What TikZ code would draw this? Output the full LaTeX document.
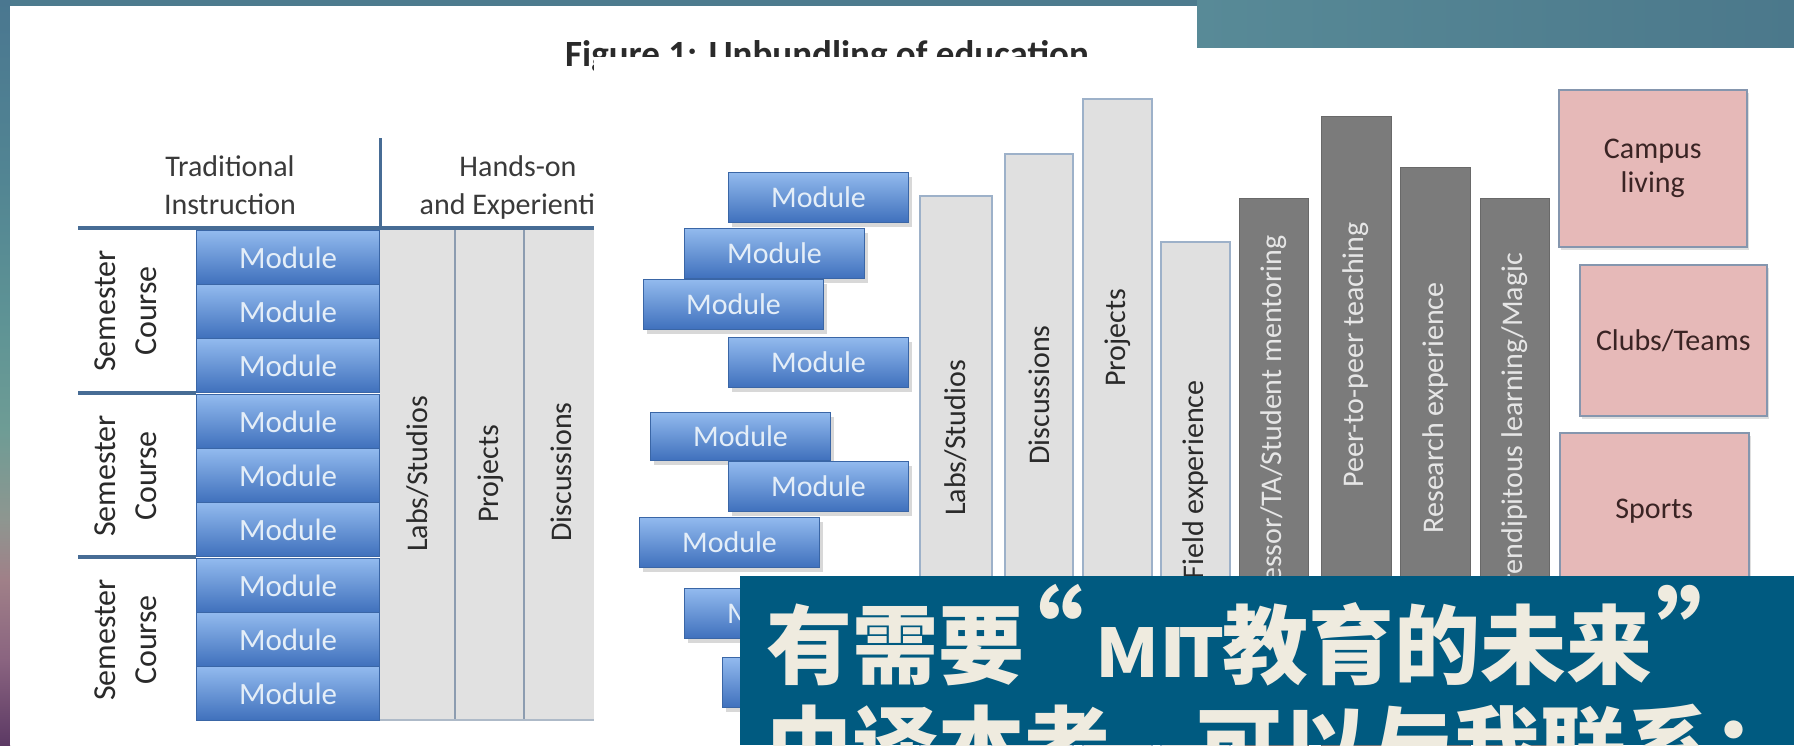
\documentclass[tikz,border=0pt]{standalone}
\usepackage{fontspec}
\setmainfont{Carlito}
\newfontfamily\cjk{Noto Sans CJK SC}
\usetikzlibrary{shadows}
\definecolor{bgteal}{HTML}{4D7B8E}
\definecolor{modtop}{HTML}{92BAEE}
\definecolor{modbot}{HTML}{3F70BC}
\definecolor{modline}{HTML}{3A66A6}
\definecolor{modtext}{HTML}{E4EEF8}
\definecolor{hdrline}{HTML}{476C95}
\definecolor{colgray}{HTML}{E1E1E1}
\definecolor{colline}{HTML}{8C9CB0}
\definecolor{lbar}{HTML}{E0E0E0}
\definecolor{lbarline}{HTML}{9DB1C9}
\definecolor{dbar}{HTML}{7B7B7B}
\definecolor{dbartext}{HTML}{E6E6E6}
\definecolor{pinkfill}{HTML}{E6B9B8}
\definecolor{pinkline}{HTML}{8596AE}
\definecolor{pinktext}{HTML}{3A2424}
\definecolor{banner}{HTML}{005A80}
\definecolor{bantext}{HTML}{EFEBDF}
\definecolor{inktext}{HTML}{2A2A2A}
\definecolor{hdrtext}{HTML}{3A3A3A}
\definecolor{sA}{HTML}{4A7790}
\definecolor{sB}{HTML}{528593}
\definecolor{sC}{HTML}{5F9495}
\definecolor{sD}{HTML}{6E9C95}
\definecolor{sE}{HTML}{8E9690}
\definecolor{sF}{HTML}{A08088}
\definecolor{sG}{HTML}{8A6480}
\definecolor{sH}{HTML}{5C3964}
\definecolor{bandL}{HTML}{588A97}
\definecolor{bandR}{HTML}{4B788B}
\begin{document}
\begin{tikzpicture}[x=1pt,y=-1pt,
  mod1/.style={draw=modline, line width=1.2pt, top color=modtop, bottom color=modbot, text=modtext,
    font=\fontsize{31}{36}\selectfont, minimum width=183pt, minimum height=54pt, inner sep=0pt, anchor=north west},
  mod2/.style={draw=modline, line width=1pt, top color=modtop, bottom color=modbot, text=modtext,
    font=\fontsize{30}{36}\selectfont, minimum width=180pt, minimum height=50pt, inner sep=0pt, anchor=north west,
    drop shadow={shadow xshift=3pt, shadow yshift=-4pt, opacity=0.3}},
  vtext/.style={rotate=90, font=\fontsize{30}{36}\selectfont, text=inktext, inner sep=0pt},
  vtextd/.style={vtext, text=dbartext},
  hdr/.style={font=\fontsize{30}{36}\selectfont, text=hdrtext, anchor=base, inner sep=0pt},
  lbarsty/.style={fill=lbar, draw=lbarline, line width=1.2pt},
  dbarsty/.style={fill=dbar, draw=dbar!85!black, line width=0.8pt},
  pinkbox/.style={fill=pinkfill, draw=pinkline, line width=1.5pt, text=pinktext, align=center,
    font=\fontsize{30}{34}\selectfont, inner sep=0pt, anchor=north west,
    drop shadow={shadow xshift=2pt, shadow yshift=-3pt, opacity=0.25}},
  cjkS/.style={font=\cjk\bfseries\fontsize{86}{100}\selectfont, text=bantext, inner sep=0pt, anchor=base west},
  semc/.style={rotate=90, align=center, font=\fontsize{32}{41}\selectfont, text=inktext, inner sep=0pt}
]
\clip (0,0) rectangle (1794,745);
\useasboundingbox (0,0) rectangle (1794,745);
% background
\fill[bgteal] (0,0) rectangle (1794,745);
\shade[top color=sA, bottom color=sB] (0,0) rectangle (10,180);
\shade[top color=sB, bottom color=sC] (0,179.5) rectangle (10,330);
\shade[top color=sC, bottom color=sD] (0,329.5) rectangle (10,430);
\shade[top color=sD, bottom color=sE] (0,429.5) rectangle (10,520);
\shade[top color=sE, bottom color=sF] (0,519.5) rectangle (10,580);
\shade[top color=sF, bottom color=sG] (0,579.5) rectangle (10,660);
\shade[top color=sG, bottom color=sH] (0,659.5) rectangle (10,745);
\shade[left color=bandL, right color=bandR] (1197,0) rectangle (1794,48);

% panel 1
\fill[white] (10,6) rectangle (1197,745);
\node[anchor=base west, inner sep=0pt, font=\bfseries\fontsize{37}{42}\selectfont, text=inktext] (title) at (565,66) {Figure 1: Unbundling of education};

\node[hdr] (trad1) at (230,176) {Traditional};
\node[hdr] (trad2) at (230,214) {Instruction};
\node[hdr] (hands1) at (518,176) {Hands-on};
\node[hdr] (hands2) at (518,214) {and Experiential};

\fill[colgray] (380,230) rectangle (594,720);
\draw[colline, line width=1.5pt] (455,230) -- (455,720);
\draw[colline, line width=1.5pt] (524,230) -- (524,720);
\draw[colline!70, line width=1.5pt] (380,720) -- (594,720);

\draw[hdrline, line width=3pt] (380,138) -- (380,228);
\draw[hdrline, line width=3.5pt] (78,228) -- (594,228);
\draw[hdrline, line width=3.5pt] (78,393) -- (196,393);
\draw[hdrline, line width=3.5pt] (78,557) -- (196,557);

\node[mod1] (p1m1) at (196,230) {Module};
\node[mod1] (p1m2) at (196,284) {Module};
\node[mod1] (p1m3) at (196,338) {Module};
\node[mod1] (p1m4) at (196,394) {Module};
\node[mod1] (p1m5) at (196,448) {Module};
\node[mod1] (p1m6) at (196,502) {Module};
\node[mod1] (p1m7) at (196,558) {Module};
\node[mod1] (p1m8) at (196,612) {Module};
\node[mod1] (p1m9) at (196,666) {Module};

\node[semc] (sc1) at (126,311) {Semester\\Course};
\node[semc] (sc2) at (126,476) {Semester\\Course};
\node[semc] (sc3) at (126,640) {Semester\\Course};

\node[vtext] (p1labs) at (418,474) {Labs/Studios};
\node[vtext] (p1proj) at (491,474) {Projects};
\node[vtext] (p1disc) at (561,472) {Discussions};

% panel 2
\fill[white] (594,57) -- (1197,57) -- (1197,48) -- (1794,48) -- (1794,745) -- (594,745) -- cycle;

\filldraw[lbarsty] (920,196) rectangle (992,760);
\filldraw[lbarsty] (1005,154) rectangle (1073,760);
\filldraw[lbarsty] (1083,99) rectangle (1152,760);
\filldraw[lbarsty] (1161,242) rectangle (1230,760);
\filldraw[dbarsty] (1239,198) rectangle (1308,760);
\filldraw[dbarsty] (1321,116) rectangle (1391,760);
\filldraw[dbarsty] (1400,167) rectangle (1470,760);
\filldraw[dbarsty] (1480,198) rectangle (1549,760);

\node[vtext] (labs) at (956,438) {Labs/Studios};
\node[vtext] (disc) at (1039,395) {Discussions};
\node[vtext] (proj) at (1117.5,338) {Projects};
\node[vtext] (field) at (1195.5,480) {Field experience};
\node[vtextd] (prof) at (1273.5,434) {Professor/TA/Student mentoring};
\node[vtextd] (peer) at (1356,355) {Peer-to-peer teaching};
\node[vtextd] (res) at (1435,408) {Research experience};
\node[vtextd] (seren) at (1514.5,433) {Serendipitous learning/Magic};

\node[mod2] (m1) at (728,172) {Module};
\node[mod2] (m2) at (684,228) {Module};
\node[mod2] (m3) at (643,279) {Module};
\node[mod2] (m4) at (728,337) {Module};
\node[mod2, minimum height=48pt] (m5) at (650,412) {Module};
\node[mod2] (m6) at (728,461) {Module};
\node[mod2] (m7) at (639,517) {Module};
\node[mod2] (m8) at (684,588) {Module};
\node[mod2] (m9) at (722,657) {Module};

\node[pinkbox, minimum width=188pt, minimum height=157pt] (campus) at (1558,89) {Campus\\living};
\node[pinkbox, minimum width=187pt, minimum height=151pt] (clubs) at (1579,264) {Clubs/Teams};
\node[pinkbox, minimum width=189pt, minimum height=156pt] (sports) at (1559,432) {Sports};

% banner
\fill[banner] (740,576) rectangle (1794,745);
\node[cjkS] (b1) at (766,677) {有需要};
\node[cjkS, anchor=base] (bq1) at (1030,677) {\scalebox{1.25}{“}};
\node[cjkS, anchor=base] (bmitM) at (1128,677) {\scalebox{0.85}[0.78]{M}};
\node[cjkS, anchor=base] (bmitI) at (1173,677) {\scalebox{0.9}[0.78]{I}};
\node[cjkS, anchor=base] (bmitT) at (1202,677) {\scalebox{0.84}[0.78]{T}};
\node[cjkS] (b2) at (1222,677) {教育的未来};
\node[cjkS, anchor=base] (bq2) at (1710,677) {\scalebox{1.25}{”}};
\node[cjkS] (b3) at (766,778) {中译本者，可以与我联系：};
\end{tikzpicture}
\end{document}
